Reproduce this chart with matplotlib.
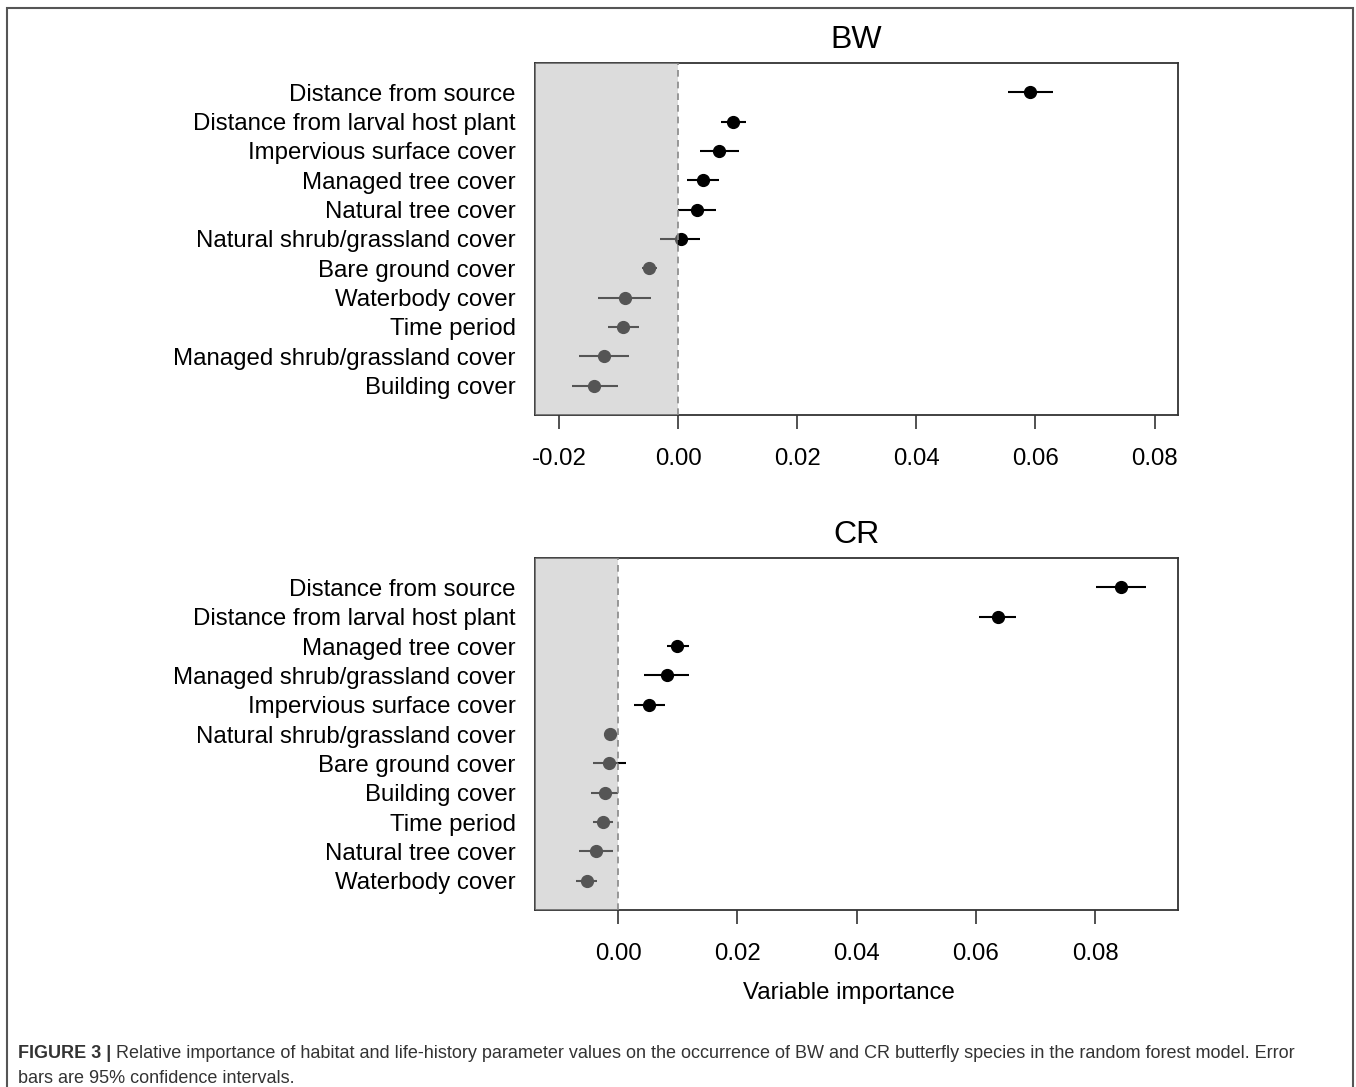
import numpy as np
import matplotlib
matplotlib.use("Agg")
from matplotlib import pyplot as plt
from matplotlib.patches import Rectangle

plt.rcParams['font.family'] = ['Liberation Sans', 'DejaVu Sans']

# BW panel, listed top to bottom
bw_vars = ['Distance from source', 'Distance from larval host plant', 'Impervious surface cover',
           'Managed tree cover', 'Natural tree cover', 'Natural shrub/grassland cover',
           'Bare ground cover', 'Waterbody cover', 'Time period',
           'Managed shrub/grassland cover', 'Building cover']
bw_mean = [0.0591, 0.0092, 0.0069, 0.0041, 0.0031, 0.0004, -0.0049, -0.0090, -0.0092, -0.0125, -0.0141]
bw_low = [0.0554, 0.0072, 0.0036, 0.0015, 0.0000, -0.0030, -0.0061, -0.0134, -0.0118, -0.0166, -0.0179]
bw_high = [0.0629, 0.0113, 0.0102, 0.0068, 0.0063, 0.0036, -0.0036, -0.0045, -0.0066, -0.0083, -0.0102]

# CR panel, listed top to bottom
cr_vars = ['Distance from source', 'Distance from larval host plant', 'Managed tree cover',
           'Managed shrub/grassland cover', 'Impervious surface cover', 'Natural shrub/grassland cover',
           'Bare ground cover', 'Building cover', 'Time period', 'Natural tree cover', 'Waterbody cover']
cr_mean = [0.0843, 0.0637, 0.0099, 0.0081, 0.0052, -0.0013, -0.0015, -0.0023, -0.0025, -0.0038, -0.0053]
cr_low = [0.0801, 0.0606, 0.0081, 0.0044, 0.0026, -0.0021, -0.0042, -0.0045, -0.0042, -0.0066, -0.0070]
cr_high = [0.0885, 0.0668, 0.0119, 0.0118, 0.0079, -0.0006, 0.0013, 0.0000, -0.0008, -0.0009, -0.0036]

bw_ticks = [-0.02, 0.00, 0.02, 0.04, 0.06, 0.08]
cr_ticks = [0.00, 0.02, 0.04, 0.06, 0.08]

W, H = 1356, 1087
FS = 17.3
fig = plt.figure(figsize=(W / 100, H / 100), dpi=100)


def panel(rect, title, names, mean, low, high, xlim, ticks):
    ax = fig.add_axes(rect)
    n = len(names)
    y = np.arange(n, 0, -1)
    ax.hlines(y, low, high, color='black', lw=1.5, zorder=2)
    ax.plot(mean, y, 'o', color='black', ms=8.5, zorder=3)
    # translucent grey overlay for the negative region
    ax.axvspan(xlim[0], 0, color='#b5b5b5', alpha=0.47, lw=0, zorder=4)
    ax.axvline(0, color='#888888', lw=1.2, ls=(0, (4, 3)), zorder=5)
    ax.set_xlim(xlim)
    ax.set_ylim(0, n + 1)
    ax.set_yticks(y)
    ax.set_yticklabels(names, fontsize=FS)
    ax.tick_params(axis='y', length=0, pad=14)
    ax.set_xticks(ticks)
    ax.set_xticklabels(['%.2f' % t for t in ticks], fontsize=FS)
    ax.tick_params(axis='x', length=10, width=1.2, pad=14, color='#333333')
    for s in ax.spines.values():
        s.set_color('#333333')
        s.set_linewidth(1.3)
    ax.set_title(title, fontsize=23, pad=11)
    return ax


ax1 = panel([535 / W, 1 - 415 / H, 643 / W, 352 / H], 'BW', bw_vars, bw_mean, bw_low, bw_high,
            (-0.02406, 0.08394), bw_ticks)
ax2 = panel([535 / W, 1 - 910 / H, 643 / W, 352 / H], 'CR', cr_vars, cr_mean, cr_low, cr_high,
            (-0.01396, 0.0939), cr_ticks)
ax2.set_xlabel('Variable importance', fontsize=FS, labelpad=12)
ax2.xaxis.set_label_coords(0.488, -0.205)

# outer frame
fig.patches.append(Rectangle((7 / W, -0.02), 1346 / W, 1 - 8 / H + 0.02, transform=fig.transFigure,
                             fill=False, ec='#555555', lw=1.5))

# caption
CFS = 13
t1 = fig.text(18 / W, 1 - 1058 / H, 'FIGURE 3 |', fontsize=CFS, fontweight='bold', color='#333333')
plt.annotate(' Relative importance of habitat and life-history parameter values on the occurrence of BW '
             'and CR butterfly species in the random forest model. Error', xy=(1, 0), xycoords=t1,
             va='bottom', fontsize=CFS, color='#333333', annotation_clip=False)
fig.text(18 / W, 1 - 1083 / H, 'bars are 95% confidence intervals.', fontsize=CFS, color='#333333')

fig.savefig('out.png', dpi=100)
